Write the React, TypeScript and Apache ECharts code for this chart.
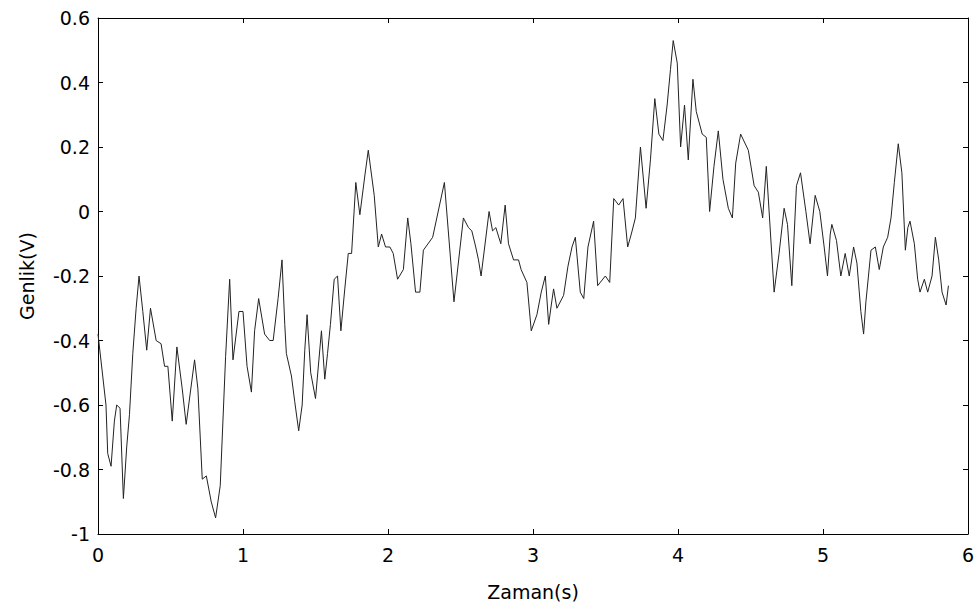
import React, { useEffect, useRef } from "react";
import * as echarts from "echarts";

const timeValues: number[] = [
  0.0, 0.055, 0.067, 0.09, 0.113, 0.129, 0.152, 0.175, 0.198, 0.217, 0.24, 0.263, 0.283, 0.309, 0.336, 0.362,
  0.401, 0.435, 0.459, 0.482, 0.512, 0.544, 0.581, 0.608, 0.666, 0.689, 0.719, 0.747, 0.781, 0.811, 0.843,
  0.88, 0.908, 0.931, 0.972, 1.0, 1.028, 1.058, 1.08, 1.108, 1.149, 1.184, 1.208, 1.242, 1.269, 1.288, 1.299,
  1.334, 1.357, 1.384, 1.408, 1.426, 1.442, 1.467, 1.5, 1.541, 1.564, 1.583, 1.603, 1.629, 1.652, 1.675,
  1.702, 1.726, 1.749, 1.778, 1.806, 1.84, 1.864, 1.905, 1.933, 1.956, 1.983, 2.013, 2.036, 2.066, 2.106,
  2.136, 2.158, 2.19, 2.22, 2.244, 2.308, 2.389, 2.455, 2.52, 2.555, 2.578, 2.605, 2.624, 2.642, 2.697,
  2.721, 2.744, 2.778, 2.808, 2.831, 2.866, 2.9, 2.918, 2.958, 2.988, 3.027, 3.057, 3.085, 3.108, 3.126,
  3.142, 3.165, 3.211, 3.241, 3.269, 3.292, 3.326, 3.35, 3.379, 3.418, 3.446, 3.499, 3.529, 3.557, 3.591,
  3.621, 3.653, 3.678, 3.706, 3.741, 3.78, 3.81, 3.84, 3.868, 3.896, 3.925, 3.948, 3.967, 3.995, 4.018,
  4.045, 4.071, 4.103, 4.126, 4.167, 4.195, 4.218, 4.248, 4.278, 4.31, 4.347, 4.375, 4.398, 4.432, 4.485,
  4.525, 4.554, 4.584, 4.609, 4.663, 4.697, 4.732, 4.755, 4.785, 4.817, 4.845, 4.882, 4.911, 4.946, 4.978,
  5.008, 5.031, 5.05, 5.061, 5.093, 5.123, 5.153, 5.181, 5.211, 5.234, 5.261, 5.28, 5.296, 5.331, 5.361,
  5.388, 5.416, 5.446, 5.469, 5.492, 5.519, 5.544, 5.568, 5.585, 5.6, 5.63, 5.653, 5.669, 5.699, 5.722,
  5.752, 5.775, 5.798, 5.821, 5.849, 5.865,
];

const amplitudeValues: number[] = [
  -0.38, -0.6, -0.75, -0.79, -0.65, -0.6, -0.61, -0.89, -0.73, -0.63, -0.44, -0.3, -0.2, -0.31, -0.43, -0.3,
  -0.4, -0.41, -0.48, -0.48, -0.65, -0.42, -0.55, -0.66, -0.46, -0.55, -0.83, -0.82, -0.9, -0.95, -0.85,
  -0.45, -0.21, -0.46, -0.31, -0.31, -0.48, -0.56, -0.37, -0.27, -0.38, -0.4, -0.4, -0.27, -0.15, -0.35, -0.44,
  -0.51, -0.59, -0.68, -0.6, -0.43, -0.32, -0.5, -0.58, -0.37, -0.52, -0.44, -0.35, -0.21, -0.2, -0.37,
  -0.24, -0.13, -0.13, 0.09, -0.01, 0.11, 0.19, 0.05, -0.11, -0.07, -0.11, -0.11, -0.13, -0.21, -0.18,
  -0.02, -0.1, -0.25, -0.25, -0.12, -0.08, 0.09, -0.28, -0.02, -0.05, -0.06, -0.11, -0.15, -0.2, 0.0,
  -0.06, -0.05, -0.1, 0.02, -0.1, -0.15, -0.15, -0.18, -0.22, -0.37, -0.32, -0.25, -0.2, -0.35, -0.29,
  -0.24, -0.3, -0.26, -0.17, -0.11, -0.08, -0.25, -0.27, -0.11, -0.03, -0.23, -0.2, -0.22, 0.04, 0.02,
  0.04, -0.11, -0.07, -0.02, 0.2, 0.01, 0.16, 0.35, 0.24, 0.22, 0.33, 0.44, 0.53, 0.46, 0.2,
  0.33, 0.16, 0.41, 0.31, 0.24, 0.23, 0.0, 0.14, 0.25, 0.1, 0.01, -0.02, 0.15, 0.24, 0.19,
  0.08, 0.06, -0.02, 0.14, -0.25, -0.13, 0.01, -0.04, -0.23, 0.08, 0.12, 0.0, -0.1, 0.05, 0.0,
  -0.11, -0.2, -0.07, -0.04, -0.09, -0.2, -0.13, -0.2, -0.11, -0.16, -0.31, -0.38, -0.28, -0.12, -0.11,
  -0.18, -0.11, -0.08, -0.02, 0.09, 0.21, 0.12, -0.12, -0.05, -0.03, -0.1, -0.21, -0.25, -0.21, -0.25,
  -0.2, -0.08, -0.15, -0.25, -0.29, -0.23,
];

const xTickInterval = 1;
const yTickInterval = 0.2;
const xLabel = "Zaman(s)";
const yLabel = "Genlik(V)";

const FONT = "'DejaVu Sans', Verdana, sans-serif";

export default function App() {
  const ref = useRef<HTMLDivElement>(null);
  useEffect(() => {
    if (!ref.current) return;
    const chart = echarts.init(ref.current, undefined, { renderer: "svg" });
    const data = timeValues.map((t, i) => [t, amplitudeValues[i]]);
    const fmt = (v: number) => String(Math.round(v * 10) / 10);
    const lineStyle = { color: "#000", width: 1 };
    const baseX = {
      type: "value" as const,
      min: 0,
      max: 6,
      interval: xTickInterval,
      splitLine: { show: false },
      axisLine: { show: true, onZero: false, lineStyle },
      axisTick: { show: true, inside: true, length: 5, lineStyle },
    };
    const baseY = {
      type: "value" as const,
      min: -1,
      max: 0.6,
      interval: yTickInterval,
      splitLine: { show: false },
      axisLine: { show: true, onZero: false, lineStyle },
      axisTick: { show: true, inside: true, length: 5, lineStyle },
    };
    const textStyle = { color: "#000", fontSize: 19, fontFamily: FONT };
    chart.setOption({
      animation: false,
      backgroundColor: "#fff",
      grid: { left: 98, right: 10, top: 18, bottom: 78, containLabel: false },
      xAxis: [
        {
          ...baseX,
          position: "bottom",
          name: xLabel,
          nameLocation: "middle",
          nameGap: 48,
          nameTextStyle: textStyle,
          axisLabel: { ...textStyle, margin: 11, formatter: fmt },
        },
        { ...baseX, position: "top", axisLabel: { show: false } },
      ],
      yAxis: [
        {
          ...baseY,
          position: "left",
          name: yLabel,
          nameLocation: "middle",
          nameGap: 62,
          nameTextStyle: textStyle,
          axisLabel: { ...textStyle, margin: 8, formatter: fmt },
        },
        { ...baseY, position: "right", axisLabel: { show: false } },
      ],
      series: [
        {
          type: "line",
          data,
          xAxisIndex: 0,
          yAxisIndex: 0,
          showSymbol: false,
          symbol: "none",
          lineStyle: { color: "#222", width: 1 },
        },
      ],
    });
    return () => chart.dispose();
  }, []);
  return (
    <div
      ref={ref}
      style={{ position: "fixed", left: 0, top: 0, width: 978, height: 612, background: "#fff" }}
    />
  );
}
